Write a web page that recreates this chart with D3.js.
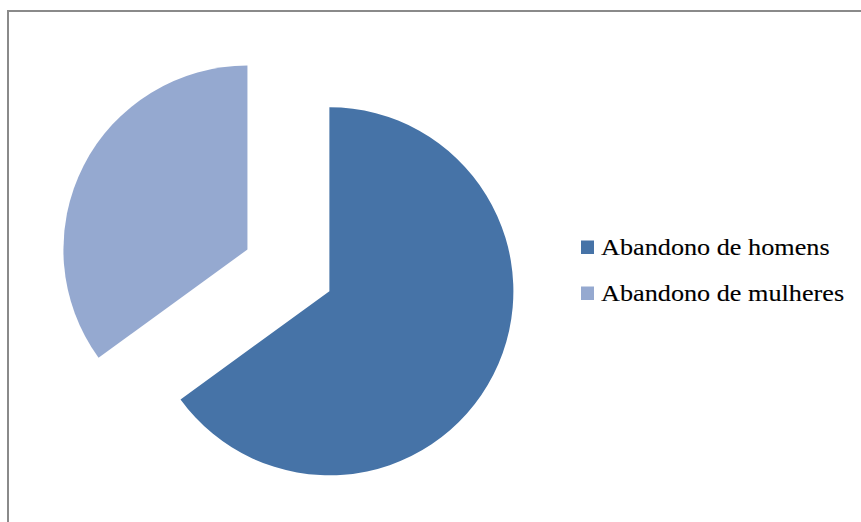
<!DOCTYPE html>
<html>
<head>
<meta charset="utf-8">
<script src="https://cdn.jsdelivr.net/npm/d3@7"></script>
<style>
  html, body { margin: 0; padding: 0; background: #fff; }
  svg { display: block; }
</style>
</head>
<body>
<svg id="chart" width="861" height="522"></svg>
<script>
// Dropout share by sex
const categories = ["Abandono de homens", "Abandono de mulheres"];
const values = [65, 35];
const colors = ["#4673A7", "#95A9D0"];

const svg = d3.select("#chart");

// Chart frame (only top and left edges fall inside the view)
svg.append("rect")
  .attr("x", 8).attr("y", 11)
  .attr("width", 900).attr("height", 600)
  .attr("fill", "none")
  .attr("stroke", "#8a8a8a")
  .attr("stroke-width", 2);

const cx = 288.4, cy = 270.4, radius = 184, explode = 46;

const pie = d3.pie().sort(null).value(d => d)(values);
const arc = d3.arc().innerRadius(0).outerRadius(radius);

svg.append("g")
  .attr("transform", `translate(${cx},${cy})`)
  .selectAll("path")
  .data(pie)
  .join("path")
  .attr("transform", d => {
    const a = (d.startAngle + d.endAngle) / 2;
    return `translate(${explode * Math.sin(a)},${-explode * Math.cos(a)})`;
  })
  .attr("d", arc)
  .attr("fill", (d, i) => colors[i]);

// Legend
const legend = svg.append("g").attr("transform", "translate(581,240)");
const rows = legend.selectAll("g")
  .data(categories)
  .join("g")
  .attr("transform", (d, i) => `translate(0,${i * 46})`);

rows.append("rect")
  .attr("x", 0).attr("y", 0.5)
  .attr("width", 13).attr("height", 13.5)
  .attr("fill", (d, i) => colors[i]);

rows.append("text")
  .attr("transform", "translate(20,14.7) scale(1.14,1)")
  .style("font-family", "'Liberation Serif', 'Times New Roman', serif")
  .attr("font-size", 23)
  .attr("fill", "#000")
  .attr("stroke", "#000")
  .attr("stroke-width", 0.12)
  .text(d => d);
</script>
</body>
</html>
